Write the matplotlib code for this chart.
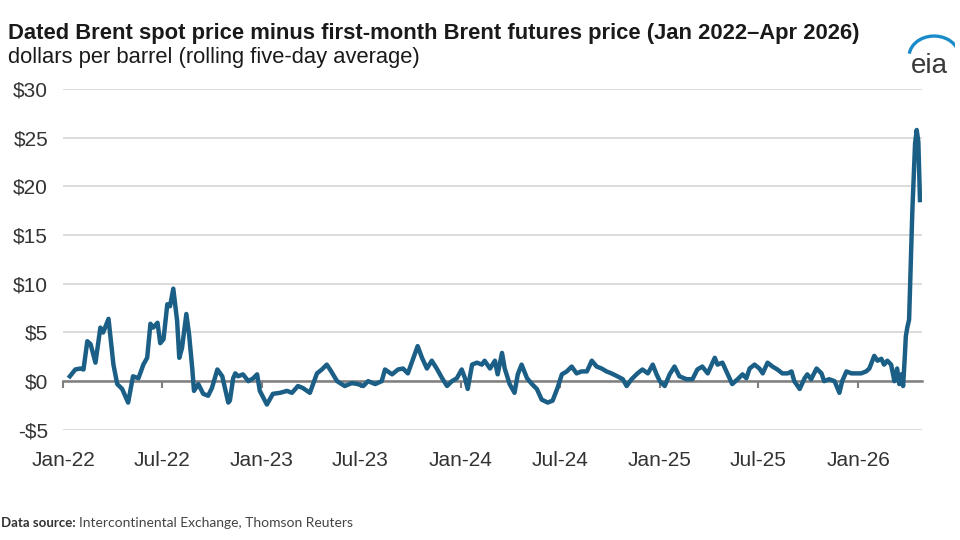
import numpy as np
import pandas as pd
import matplotlib
matplotlib.use("Agg")
import matplotlib.pyplot as plt
from matplotlib.patches import Arc
from matplotlib.ticker import FuncFormatter

# Dated Brent minus first-month Brent futures, dollars per barrel (5-day avg)
dates = [
    "2022-01-13", "2022-01-23", "2022-02-01", "2022-02-07", "2022-02-14", "2022-02-20",
    "2022-03-01", "2022-03-10", "2022-03-15", "2022-03-25", "2022-03-28", "2022-04-03",
    "2022-04-10", "2022-04-19", "2022-04-30", "2022-05-09", "2022-05-19", "2022-05-28",
    "2022-06-04", "2022-06-10", "2022-06-15", "2022-06-23", "2022-06-28", "2022-07-04",
    "2022-07-11", "2022-07-16", "2022-07-22", "2022-07-29", "2022-08-02", "2022-08-07",
    "2022-08-15", "2022-08-20", "2022-08-26", "2022-08-29", "2022-09-06", "2022-09-15",
    "2022-09-24", "2022-10-01", "2022-10-11", "2022-10-20", "2022-10-31", "2022-11-03",
    "2022-11-09", "2022-11-13", "2022-11-18", "2022-11-27", "2022-12-07", "2022-12-16",
    "2022-12-23", "2022-12-28", "2023-01-10", "2023-01-21", "2023-02-03", "2023-02-16",
    "2023-02-25", "2023-03-08", "2023-03-17", "2023-03-30", "2023-04-12", "2023-04-21",
    "2023-04-30", "2023-05-06", "2023-05-19", "2023-06-02", "2023-06-15", "2023-06-26",
    "2023-07-06", "2023-07-15", "2023-07-28", "2023-08-09", "2023-08-15", "2023-08-28",
    "2023-09-08", "2023-09-17", "2023-09-26", "2023-10-14", "2023-10-22", "2023-10-31",
    "2023-11-09", "2023-11-18", "2023-11-28", "2023-12-07", "2023-12-16", "2023-12-25",
    "2024-01-03", "2024-01-09", "2024-01-14", "2024-01-22", "2024-01-31", "2024-02-09",
    "2024-02-14", "2024-02-24", "2024-03-04", "2024-03-09", "2024-03-17", "2024-03-22",
    "2024-03-31", "2024-04-09", "2024-04-15", "2024-04-22", "2024-05-02", "2024-05-11",
    "2024-05-20", "2024-05-29", "2024-06-09", "2024-06-18", "2024-06-27", "2024-07-05",
    "2024-07-14", "2024-07-23", "2024-08-01", "2024-08-10", "2024-08-20", "2024-08-29",
    "2024-09-07", "2024-09-16", "2024-09-25", "2024-10-04", "2024-10-15", "2024-10-25",
    "2024-11-01", "2024-11-10", "2024-11-21", "2024-11-30", "2024-12-10", "2024-12-19",
    "2024-12-26", "2025-01-01", "2025-01-10", "2025-01-19", "2025-01-28", "2025-02-06",
    "2025-02-19", "2025-03-02", "2025-03-11", "2025-03-20", "2025-03-30", "2025-04-12",
    "2025-04-17", "2025-04-26", "2025-05-05", "2025-05-14", "2025-05-24", "2025-06-02",
    "2025-06-09", "2025-06-15", "2025-06-24", "2025-07-03", "2025-07-09", "2025-07-18",
    "2025-07-27", "2025-08-05", "2025-08-14", "2025-08-24", "2025-08-31", "2025-09-05",
    "2025-09-15", "2025-09-24", "2025-09-29", "2025-10-06", "2025-10-16", "2025-10-25",
    "2025-10-30", "2025-11-08", "2025-11-18", "2025-11-27", "2025-12-02", "2025-12-10",
    "2025-12-19", "2025-12-28", "2026-01-06", "2026-01-15", "2026-01-21", "2026-01-30",
    "2026-02-05", "2026-02-12", "2026-02-17", "2026-02-23", "2026-03-02", "2026-03-08",
    "2026-03-13", "2026-03-17", "2026-03-21", "2026-03-24", "2026-03-27", "2026-03-29",
    "2026-04-01", "2026-04-04", "2026-04-10", "2026-04-15", "2026-04-18", "2026-04-21",
    "2026-04-24",
]
spread = [
    0.5, 1.2, 1.3, 1.2, 4.1, 3.8,
    1.9, 5.5, 5.0, 6.4, 4.8, 1.7,
    -0.3, -0.8, -2.2, 0.5, 0.3, 1.7,
    2.4, 5.9, 5.5, 6.0, 3.9, 4.3,
    7.9, 7.7, 9.5, 6.2, 2.4, 3.4,
    6.9, 4.8, 1.2, -1.0, -0.3, -1.3,
    -1.5, -0.7, 1.2, 0.5, -2.2, -2.0,
    0.3, 0.8, 0.5, 0.7, 0.0, 0.3,
    0.7, -1.0, -2.4, -1.3, -1.2, -1.0,
    -1.2, -0.5, -0.7, -1.2, 0.8, 1.2,
    1.7, 1.2, 0.0, -0.5, -0.2, -0.3,
    -0.5, 0.0, -0.3, 0.0, 1.2, 0.7,
    1.2, 1.3, 0.8, 3.6, 2.4, 1.3,
    2.1, 1.3, 0.3, -0.5, 0.0, 0.3,
    1.2, 0.3, -0.8, 1.7, 1.9, 1.7,
    2.1, 1.3, 2.1, 0.7, 2.9, 1.3,
    -0.3, -1.2, 0.7, 1.7, 0.3, -0.3,
    -0.8, -1.9, -2.2, -2.0, -0.7, 0.7,
    1.0, 1.5, 0.8, 1.0, 1.0, 2.1,
    1.5, 1.3, 1.0, 0.8, 0.5, 0.2,
    -0.5, 0.2, 0.8, 1.2, 0.8, 1.7,
    0.7, 0.0, -0.5, 0.7, 1.5, 0.5,
    0.2, 0.2, 1.2, 1.5, 0.8, 2.4,
    1.7, 1.9, 0.8, -0.3, 0.2, 0.7,
    0.3, 1.3, 1.7, 1.3, 0.8, 1.9,
    1.5, 1.2, 0.8, 0.8, 1.0, 0.0,
    -0.8, 0.3, 0.7, 0.2, 1.3, 0.8,
    0.0, 0.2, 0.0, -1.2, 0.0, 1.0,
    0.8, 0.8, 0.8, 1.0, 1.3, 2.6,
    2.1, 2.3, 1.7, 2.1, 1.7, 0.0,
    1.3, -0.3, 0.7, -0.5, 2.4, 4.6,
    5.6, 6.3, 17.5, 24.4, 25.8, 24.6,
    18.6,
]

tick_dates = ["2022-01-01", "2022-07-01", "2023-01-01", "2023-07-01", "2024-01-01",
              "2024-07-01", "2025-01-01", "2025-07-01", "2026-01-01"]
tick_labels = ["Jan-22", "Jul-22", "Jan-23", "Jul-23", "Jan-24",
               "Jul-24", "Jan-25", "Jul-25", "Jan-26"]
y_ticks = [-5, 0, 5, 10, 15, 20, 25, 30]

line_color = "#1b5f87"
text_color = "#333333"
plt.rcParams["font.family"] = ["Liberation Sans", "DejaVu Sans"]

fig = plt.figure(figsize=(9.6, 5.4), dpi=100)
ax = fig.add_axes([0.066, 0.204, 0.894, 0.631])

x = pd.to_datetime(dates)
ax.plot(x, spread, color=line_color, lw=3.2, solid_joinstyle="round", zorder=3)

ax.set_ylim(-5, 30)
ax.set_xlim(pd.Timestamp("2022-01-01"), pd.Timestamp("2026-04-27"))
ax.set_yticks(y_ticks)
ax.yaxis.set_major_formatter(FuncFormatter(lambda v, p: f"-${abs(v):.0f}" if v < 0 else f"${v:.0f}"))
ax.grid(axis="y", color="#d9d9d9", lw=1.3, zorder=0)
ax.tick_params(axis="y", length=0, pad=11, labelsize=15, labelcolor=text_color)

ax.set_xticks(pd.to_datetime(tick_dates))
ax.set_xticklabels(tick_labels)
ax.tick_params(axis="x", length=0, pad=15, labelsize=15, labelcolor=text_color)

for s in ax.spines.values():
    s.set_visible(False)

# zero line with tick marks pointing down
zero = ax.secondary_xaxis(5 / 35)
zero.set_xticks(pd.to_datetime(tick_dates))
zero.tick_params(axis="x", direction="out", length=5, width=1.5, color="#7f7f7f",
                 labelbottom=False, labeltop=False)
zero.spines["bottom"].set_color("#7f7f7f")
zero.spines["bottom"].set_linewidth(1.8)
zero.set_zorder(2)

fig.text(0.008, 0.938, "Dated Brent spot price minus first-month Brent futures price (Jan 2022\u2013Apr 2026)",
         fontsize=15.8, fontweight="bold", color="#1a1a1a", va="center", ha="left")
fig.text(0.008, 0.893, "dollars per barrel (rolling five-day average)",
         fontsize=15.8, color="#1a1a1a", va="center", ha="left")

fig.text(0.001, 0.031, "Data source:", fontsize=9.5, fontweight="bold", color="#333333",
         va="center", ha="left", family=["Lato", "DejaVu Sans"])
fig.text(0.082, 0.031, "Intercontinental Exchange, Thomson Reuters", fontsize=10, color="#444444",
         va="center", ha="left", family=["Lato", "DejaVu Sans"])

# eia logo
fig.text(0.968, 0.878, "eia", fontsize=20, color="#3a3a3a", ha="center", va="center")
logo = fig.add_axes([0.94, 0.895, 0.055, 0.045])
logo.set_xlim(0, 1)
logo.set_ylim(0, 1)
logo.axis("off")
logo.add_patch(Arc((0.6, 0.0), 0.95, 1.7, theta1=30, theta2=165, color="#1a8bc9", lw=2.4))

fig.savefig("out.png", dpi=100)
